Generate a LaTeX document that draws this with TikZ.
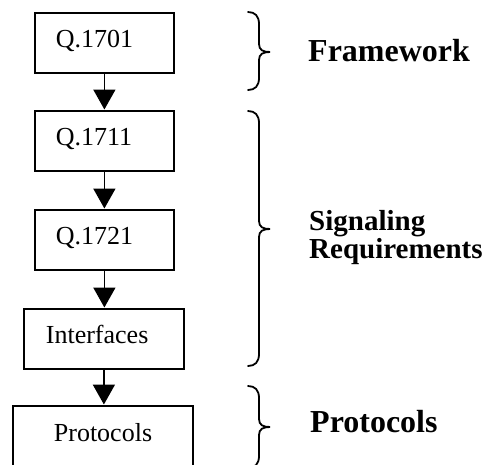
\documentclass[tikz,border=0pt]{standalone}
\usepackage{fontspec}
\setmainfont{Liberation Serif}
\usetikzlibrary{arrows.meta}
\tikzset{
  stage/.style={draw, line width=1.8pt, rectangle, anchor=north west, inner ysep=0pt,
    minimum height=60pt, text height=18pt, text depth=9pt, align=left,
    font=\fontsize{26}{30}\selectfont},
  flow/.style={line width=1.8pt, -{Triangle[width=22pt,length=20pt]}, shorten >=0.5pt},
  group/.style={anchor=base west, inner sep=0pt, align=left, font=\bfseries},
  curly/.style={line width=1.8pt, line cap=round}
}
\begin{document}
\begin{tikzpicture}[x=1pt,y=-1pt]
\useasboundingbox (0,0) rectangle (488,464);

\node[stage, minimum width=139pt, inner xsep=21pt, text width=97pt] (b1) at (34,12) {Q.1701};
\node[stage, minimum width=139pt, inner xsep=21pt, text width=97pt] (b2) at (34,110) {Q.1711};
\node[stage, minimum width=139pt, inner xsep=21pt, text width=97pt] (b3) at (34,209) {Q.1721};
\node[stage, minimum width=160pt, inner xsep=22pt, text width=116pt] (b4) at (23,308) {Interfaces};
\node[stage, minimum width=180pt, minimum height=62pt, inner xsep=41pt, text width=98pt] (b5) at (12,405) {Protocols};

\draw[flow] (b1.south) -- (b1.south |- b2.north);
\draw[flow] (b2.south) -- (b2.south |- b3.north);
\draw[flow] (b3.south) -- (b3.south |- b4.north);
\draw[flow] (b4.south) -- (b4.south |- b5.north);

% curly braces grouping the stages
\draw[curly] (248,12) .. controls (255,12) and (259,16) .. (259,24)
  -- (259,44) .. controls (259,50) and (263,52) .. (270,52)
  .. controls (263,52) and (259,54) .. (259,60)
  -- (259,78) .. controls (259,86) and (255,90) .. (248,90);
\draw[curly] (248,111) .. controls (255,111) and (259,115) .. (259,123)
  -- (259,221) .. controls (259,227) and (263,229) .. (270,229)
  .. controls (263,229) and (259,231) .. (259,237)
  -- (259,354) .. controls (259,362) and (255,366) .. (248,366);
\draw[curly] (248,386) .. controls (255,386) and (259,390) .. (259,398)
  -- (259,419) .. controls (259,425) and (263,427) .. (270,427)
  .. controls (263,427) and (259,429) .. (259,435)
  -- (259,456) .. controls (259,464) and (255,468) .. (248,468);

\node[group, font=\bfseries\fontsize{32}{32}\selectfont] (fw) at (308,61) {Framework};
\node[group, font=\bfseries\fontsize{29}{26}\selectfont] (sr) at (309,258) {Signaling\\Requirements};
\node[group, font=\bfseries\fontsize{32}{32}\selectfont] (pr) at (310,432) {Protocols};
\end{tikzpicture}
\end{document}
